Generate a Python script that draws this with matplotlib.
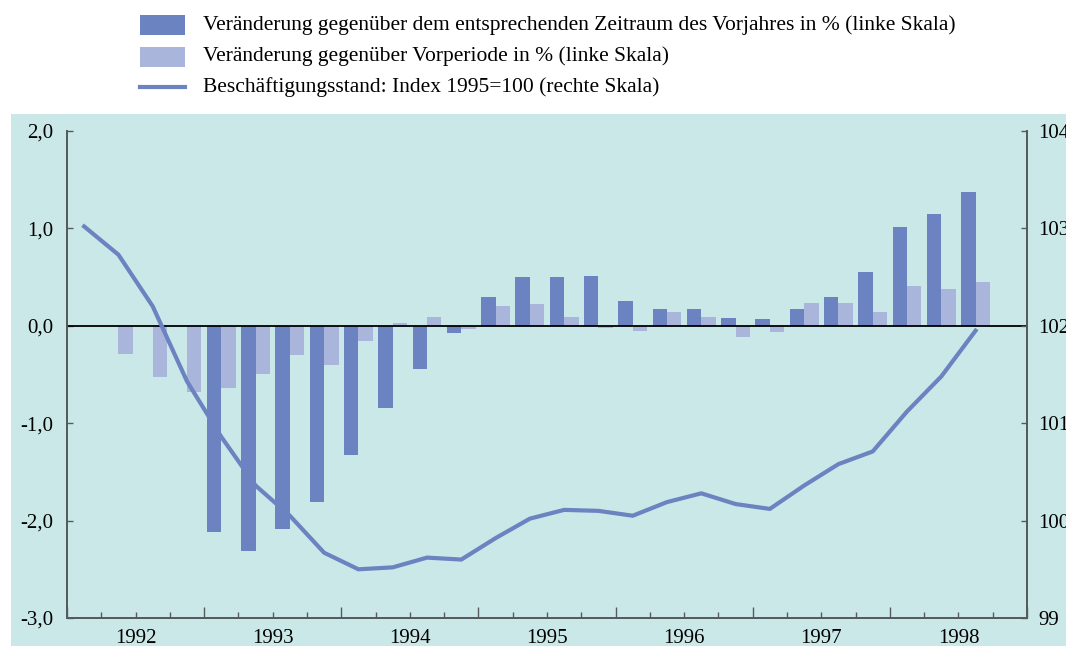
import numpy as np
import matplotlib
matplotlib.use("Agg")
from matplotlib import pyplot as plt
from matplotlib.patches import Rectangle
from matplotlib.lines import Line2D

# ---- data (quarterly, 1992 Q1 .. 1998 Q4) ----
years = ["1992", "1993", "1994", "1995", "1996", "1997", "1998"]
nan = np.nan
yoy = [nan, nan, nan, nan,
       -2.12, -2.31, -2.09, -1.81,
       -1.33, -0.84, -0.44, -0.07,
       0.30, 0.50, 0.50, 0.51,
       0.25, 0.17, 0.17, 0.08,
       0.07, 0.17, 0.30, 0.55,
       1.01, 1.15, 1.37, nan]
qoq = [nan, -0.29, -0.525, -0.68,
       -0.64, -0.49, -0.30, -0.40,
       -0.16, 0.03, 0.09, -0.03,
       0.20, 0.22, 0.09, -0.02,
       -0.05, 0.14, 0.09, -0.11,
       -0.06, 0.23, 0.23, 0.14,
       0.41, 0.38, 0.45, nan]
index = [103.02, 102.73, 102.20, 101.43,
         100.86, 100.36, 100.05, 99.67,
         99.50, 99.52, 99.62, 99.60,
         99.82, 100.02, 100.11, 100.10,
         100.05, 100.19, 100.28, 100.17,
         100.12, 100.36, 100.58, 100.71,
         101.12, 101.48, 101.95, nan]

labels = ["Veränderung gegenüber dem entsprechenden Zeitraum des Vorjahres in % (linke Skala)",
          "Veränderung gegenüber Vorperiode in % (linke Skala)",
          "Beschäftigungsstand: Index 1995=100 (rechte Skala)"]

# ---- style ----
dark = "#6b83c0"
light = "#aab5dc"
bg = "#cbe8e8"
spine_col = "#555a5a"
fs = 15
plt.rcParams["font.family"] = ["Liberation Serif", "DejaVu Serif"]

fig = plt.figure(figsize=(10.66, 6.46), dpi=100)
fig.patches.append(Rectangle((11 / 1066, 0), 1, (646 - 114) / 646, transform=fig.transFigure,
                             facecolor=bg, edgecolor="none", zorder=0))

ax = fig.add_axes([67 / 1066, 1 - 618 / 646, 960 / 1066, (618 - 131) / 646])
ax.set_facecolor(bg)
ax.set_zorder(1)

x = np.arange(len(yoy))
w = 0.42
ax.bar(x - w / 2, yoy, width=w, color=dark, zorder=2)
ax.bar(x + w / 2, qoq, width=w, color=light, zorder=2)
ax.axhline(0, color="black", lw=1.3, zorder=3)

ax.set_xlim(-0.5, len(x) - 0.5)
ax.set_ylim(-3, 2)
ax.set_yticks(np.arange(-3, 2.1, 1))
ax.set_yticklabels([f"{v:.1f}".replace(".", ",") for v in np.arange(-3, 2.1, 1)])

# quarter boundary ticks, longer ticks at year boundaries, year label mid-year
ax.set_xticks(np.arange(-0.5, len(x), 4))
ax.set_xticklabels([])
ax.set_xticks(np.arange(-0.5, len(x), 1), minor=True)
for i, yr in enumerate(years):
    ax.text(4 * i + 1.5, -3.255, yr, ha="center", va="baseline", fontsize=fs)

ax.tick_params(axis="x", which="major", direction="in", length=8, width=1, color=spine_col)
ax.tick_params(axis="x", which="minor", direction="in", length=4, width=1, color=spine_col)
ax.tick_params(axis="y", direction="in", length=4, width=1, color=spine_col,
               labelsize=fs, pad=10)

for s in ["left", "bottom", "right"]:
    ax.spines[s].set_color(spine_col)
    ax.spines[s].set_linewidth(1.3)
ax.spines["top"].set_visible(False)

ax2 = ax.twinx()
ax2.plot(x, index, color=dark, lw=3, zorder=4)
ax2.set_ylim(99, 104)
ax2.set_yticks(np.arange(99, 104.1, 1))
ax2.tick_params(axis="y", direction="in", length=4, width=1, color=spine_col,
                labelsize=fs, pad=8)
for s in ["left", "bottom", "right"]:
    ax2.spines[s].set_color(spine_col)
    ax2.spines[s].set_linewidth(1.3)
ax2.spines["top"].set_visible(False)

# ---- legend at top ----
fig.patches.append(Rectangle((140 / 1066, 1 - 35 / 646), 45 / 1066, 20 / 646,
                             transform=fig.transFigure, facecolor=dark, edgecolor="none"))
fig.patches.append(Rectangle((140 / 1066, 1 - 67 / 646), 45 / 1066, 20 / 646,
                             transform=fig.transFigure, facecolor=light, edgecolor="none"))
fig.add_artist(Line2D([140 / 1066, 185 / 1066], [1 - 87 / 646, 1 - 87 / 646],
                      transform=fig.transFigure, color=dark, lw=3))
for k, yy in enumerate([25, 56, 87]):
    fig.text(203 / 1066, 1 - yy / 646, labels[k], ha="left", va="center", fontsize=15.5)

fig.savefig("out.png", dpi=100, facecolor="white")
